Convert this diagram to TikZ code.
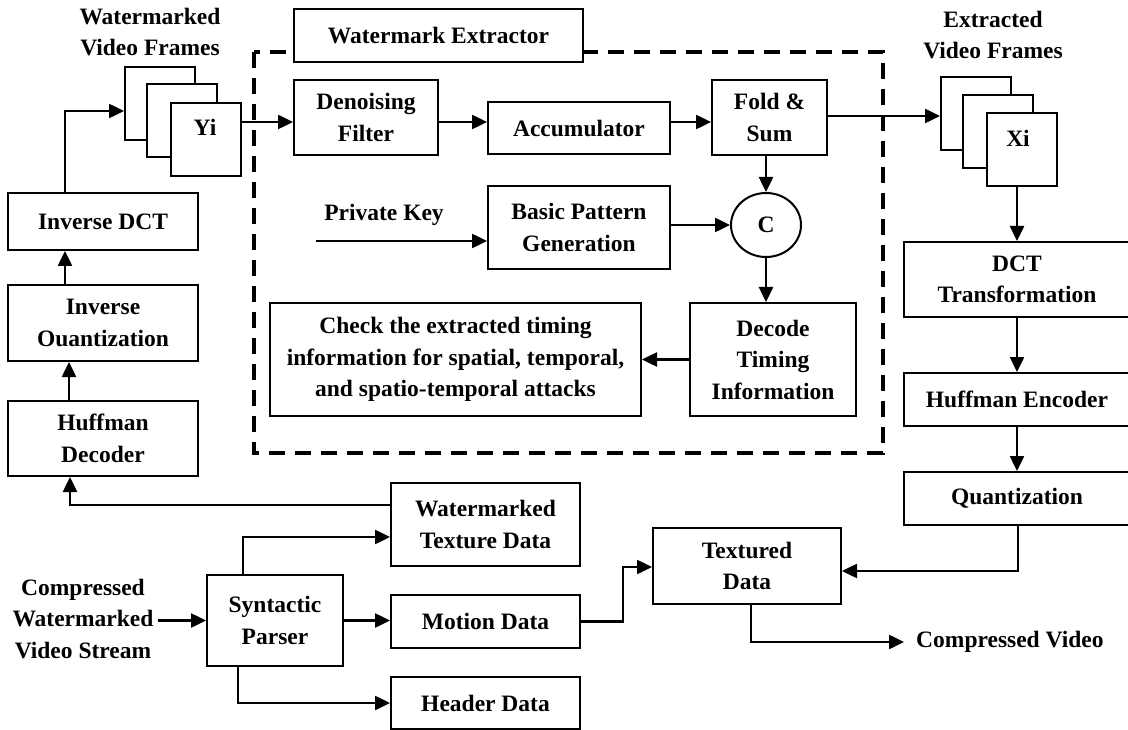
\documentclass[tikz,border=0pt]{standalone}
\usepackage{fontspec}
\setmainfont{Liberation Serif}
\usetikzlibrary{arrows.meta,shapes.geometric}
\tikzset{
  txt/.style={font=\fontsize{23.5}{31.5}\selectfont\bfseries, align=center, inner sep=0pt},
  bx/.style={txt, draw, line width=2pt, fill=white, minimum width=#1},
  frm/.style={draw, line width=2pt, fill=white, minimum width=70pt, minimum height=73pt, inner sep=0pt},
  arr/.style={line width=2.5pt, -{Triangle[length=15pt,width=14pt]}},
  ln/.style={line width=2.5pt},
  dsh/.style={line width=4pt, dash pattern=on 16pt off 10pt}
}
\begin{document}
\begin{tikzpicture}[x=1pt,y=-1pt]
\useasboundingbox (0,0) rectangle (1128,730);
% dashed extractor frame
\draw[dsh] (254,52) rectangle (883,453);
\node[bx=289pt, minimum height=53pt] (we) at (438.5,35.5) {Watermark Extractor};
% left frames
\node[txt] (wvf) at (150,32) {Watermarked\\Video Frames};
\node[frm] (f1) at (160,103.5) {};
\node[frm] (f2) at (182,120.5) {};
\node[frm] (f3) at (206,139.5) {};
\node[txt] (yi) at (205,127) {Yi};
% right frames
\node[txt] (evf) at (993,35) {Extracted\\Video Frames};
\node[frm] (g1) at (976,113.5) {};
\node[frm] (g2) at (997.5,131.5) {};
\node[frm] (g3) at (1022,149.5) {};
\node[txt] (xi) at (1018,138) {Xi};
% extractor blocks
\node[bx=144pt, minimum height=75pt] (df) at (366,117.5) {Denoising\\Filter};
\node[bx=182pt, minimum height=52pt] (acc) at (579,128) {Accumulator};
\node[bx=115pt, minimum height=75pt] (fs) at (769.5,117.5) {Fold \&\\Sum};
\node[bx=182pt, minimum height=83pt] (bpg) at (579,227.5) {Basic Pattern\\Generation};
\node[txt, draw, line width=2pt, ellipse, minimum width=70pt, minimum height=64pt] (c) at (766,225) {C};
\node[bx=166pt, minimum height=113pt] (dti) at (773,359.5) {Decode\\Timing\\Information};
\node[bx=371pt, minimum height=113pt] (chk) at (455.5,359.5) {Check the extracted timing\\information for spatial, temporal,\\and spatio-temporal attacks};
\node[txt] (pkl) at (384,215) {Private Key};
\coordinate (pk) at (316,241);
% left column
\node[bx=190pt, minimum height=57pt] (idct) at (103,221.5) {Inverse DCT};
\node[bx=190pt, minimum height=76pt] (iq) at (103,323) {Inverse\\Ouantization};
\node[bx=190pt, minimum height=75pt] (hd) at (103,438.5) {Huffman\\Decoder};
% bottom
\node[bx=189pt, minimum height=83pt] (wtd) at (485.5,524.5) {Watermarked\\Texture Data};
\node[bx=189pt, minimum height=53pt] (md) at (485.5,621.5) {Motion Data};
\node[bx=189pt, minimum height=52pt] (hdr) at (485.5,703) {Header Data};
\node[bx=136pt, minimum height=91pt] (sp) at (275,620.5) {Syntactic\\Parser};
\node[txt] (cs) at (83,619) {Compressed\\Watermarked\\Video Stream};
\node[bx=188pt, minimum height=76pt] (td) at (747,566) {Textured\\Data};
\node[txt, anchor=west] (cv) at (916,642) {Compressed Video};
% right column
\node[bx=226pt, minimum height=75pt] (dct) at (1017,279.5) {DCT\\Transformation};
\node[bx=226pt, minimum height=53pt] (he) at (1017,399.5) {Huffman Encoder};
\node[bx=226pt, minimum height=53pt] (q) at (1017,498.5) {Quantization};
% helper coordinates
\coordinate (y1) at (0,122);
\coordinate (y2) at (0,116);
\coordinate (a1) at (65,111);
\coordinate (a2) at (69,0);
\coordinate (a3) at (70,505);
\coordinate (a4) at (243,537);
\coordinate (a5) at (238,703);
\coordinate (a6) at (623,567);
\coordinate (a7) at (1018,571);
\coordinate (a8) at (751,642);
% connectors
\draw[arr] (f3.east |- y1) -- (df.west |- y1);
\draw[arr] (df.east |- y1) -- (acc.west |- y1);
\draw[arr] (acc.east |- y1) -- (fs.west |- y1);
\draw[arr] (fs.east |- y2) -- (g1.west |- y2);
\draw[arr] (c.north |- fs.south) -- (c.north);
\draw[arr] (bpg.east |- c.west) -- (c.west);
\draw[arr] (c.south) -- (c.south |- dti.north);
\draw[arr] (dti.west) -- (chk.east);
\draw[arr] (pk) -- (bpg.west |- pk);
\draw[arr] (a1 |- idct.north) -- (a1) -- (a1 -| f1.west);
\draw[arr] (a1 |- iq.north) -- (a1 |- idct.south);
\draw[arr] (a2 |- hd.north) -- (a2 |- iq.south);
\draw[arr] (a3 -| wtd.west) -- (a3) -- (a3 |- hd.south);
\draw[arr] (a4 |- sp.north) -- (a4) -- (a4 -| wtd.west);
\draw[arr] (sp.east) -- (sp.east -| md.west);
\draw[arr] (a5 |- sp.south) -- (a5) -- (a5 -| hdr.west);
\draw[arr] ([xshift=4pt]cs.east |- sp.west) -- (sp.west);
\draw[arr] (md.east) -- (a6 |- md.east) -- (a6) -- (a6 -| td.west);
\draw[arr] (a7 |- q.south) -- (a7) -- (a7 -| td.east);
\draw[arr] (a8 |- td.south) -- (a8) -- ([xshift=-12pt]cv.west |- a8);
\draw[arr] (dct.north |- g3.south) -- (dct.north);
\draw[arr] (dct.south) -- (he.north);
\draw[arr] (he.south) -- (q.north);
\end{tikzpicture}
\end{document}
